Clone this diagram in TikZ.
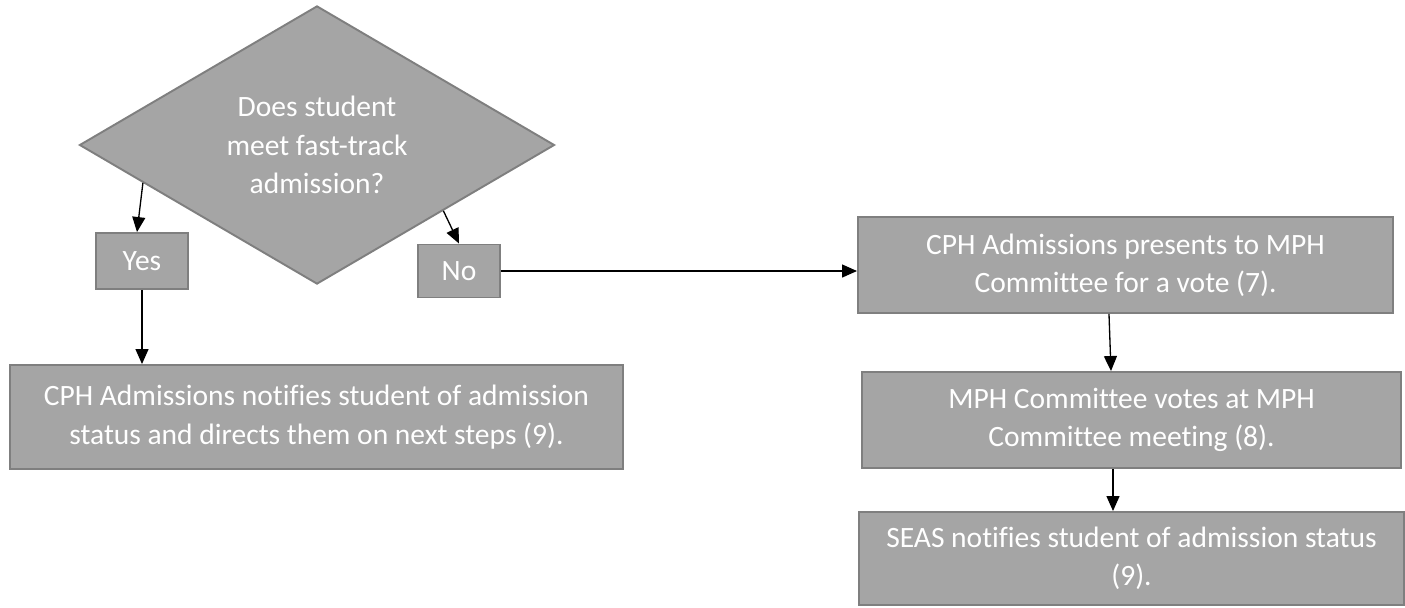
\documentclass[tikz,border=0pt]{standalone}
\usepackage{fontspec}
\setmainfont{Carlito}[Ligatures=NoCommon]
\usetikzlibrary{positioning,calc,shapes.geometric,arrows.meta}
\definecolor{boxgray}{HTML}{A5A5A5}
\definecolor{edgegray}{HTML}{7F7F7F}
\tikzset{
stepbox/.style={rectangle, draw=edgegray, fill=boxgray, line width=1.1pt, text=white, align=center, inner sep=0pt, font=\fontsize{16.8}{21.8}\selectfont},
decision/.style={diamond, draw=edgegray, fill=boxgray, line width=1.1pt, text=white, align=center, inner sep=0pt, font=\fontsize{16.8}{21.8}\selectfont},
connect/.style={-{Triangle[width=2.6mm,length=3mm]}, line width=0.75pt, black}
}

\begin{document}
\begin{tikzpicture}
        \useasboundingbox (0,0) rectangle (28.1,-12.14);
        \node[decision, minimum width=9.5cm, minimum height=5.48cm] (fasttrack) at (6.34,-2.9) {Does student\\meet fast-track\\admission?};
        \node[stepbox, minimum width=1.84cm, minimum height=1.12cm] (yes) at (2.84,-5.22) {Yes};
        \node[stepbox, minimum width=1.64cm, minimum height=1.06cm] (no) at (9.18,-5.42) {No};
        \node[stepbox, minimum width=12.26cm, minimum height=2.08cm] (cphnotify) at (6.33,-8.34) {CPH Admissions notifies student of admission\\status and directs them on next steps (9).};
        \node[stepbox, minimum width=10.7cm, minimum height=1.92cm] (presents) at (22.51,-5.3) {CPH Admissions presents to MPH\\Committee for a vote (7).};
        \node[stepbox, minimum width=10.78cm, minimum height=1.92cm] (votes) at (22.63,-8.4) {MPH Committee votes at MPH\\Committee meeting (8).};
        \node[stepbox, minimum width=10.9cm, minimum height=1.86cm] (seasnotify) at (22.63,-11.17) {SEAS notifies student of admission status\\(9).};

        \draw[connect] ($(fasttrack.west)!0.27!(fasttrack.south)$) to ([xshift=-1mm]yes.north);
        \draw[connect] ($(fasttrack.south)!0.53!(fasttrack.east)$) to (no.north);
        \draw[connect] (yes.south) to (yes.south |- cphnotify.north);
        \draw[connect] (no.east) to (no.east -| presents.west);
        \draw[connect] ([xshift=-3.3mm]presents.south) to ([xshift=-4.1mm]votes.north);
        \draw[connect] ([xshift=-3.7mm]votes.south) to ([xshift=-3.7mm]seasnotify.north);
    \end{tikzpicture}
\end{document}
